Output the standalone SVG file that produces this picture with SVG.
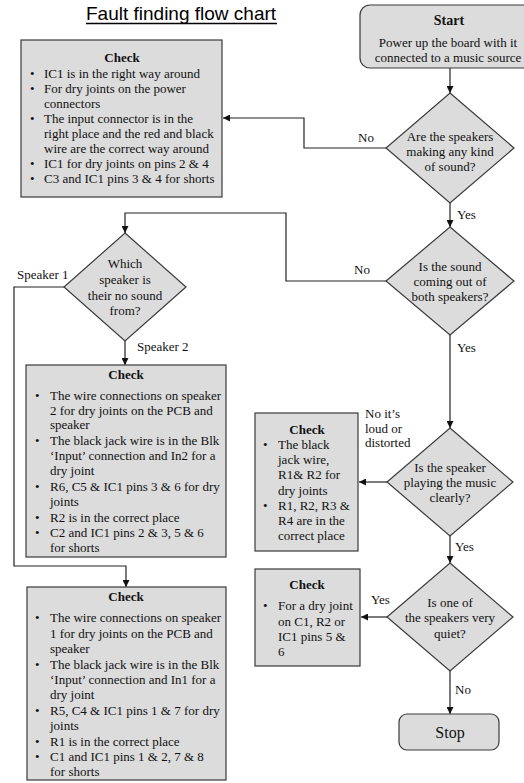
<svg xmlns="http://www.w3.org/2000/svg" width="524" height="783" viewBox="0 0 524 783">
<style>
.box{fill:#dcdcdc;stroke:#3a3a3a;stroke-width:1.2}
.t{font-family:"Liberation Serif","Times New Roman",serif;font-size:13px;fill:#111}
.c{text-anchor:middle}
.b{font-weight:bold}
.ln{fill:none;stroke:#222;stroke-width:1.2}
.title{font-family:"Liberation Sans",Arial,sans-serif;font-size:19px;fill:#000}
</style>
<defs>
<marker id="ah" viewBox="0 0 8 8" refX="8" refY="4" markerWidth="7" markerHeight="7" markerUnits="userSpaceOnUse" orient="auto">
<path d="M0,0 L8,4 L0,8 z" fill="#111"/>
</marker>
</defs>
<rect width="524" height="783" fill="#fff"/>
<g id="title">
<text class="title" x="86" y="20">Fault finding flow chart</text>
<line x1="86" y1="23.5" x2="277" y2="23.5" stroke="#000" stroke-width="1.5"/>
</g>
<g id="connectors">
<path class="ln" d="M450,68 V93" marker-end="url(#ah)"/>
<path class="ln" d="M386,148 H304 V118 H223" marker-end="url(#ah)"/>
<path class="ln" d="M450,203 V227" marker-end="url(#ah)"/>
<path class="ln" d="M386,281 H286 V213 H125 V233" marker-end="url(#ah)"/>
<path class="ln" d="M64,287 H14 V566 H126 V587" marker-end="url(#ah)"/>
<path class="ln" d="M125,341 V365" marker-end="url(#ah)"/>
<path class="ln" d="M450,335 V428" marker-end="url(#ah)"/>
<path class="ln" d="M387,482 H359" marker-end="url(#ah)"/>
<path class="ln" d="M450,536 V563" marker-end="url(#ah)"/>
<path class="ln" d="M387,617 H361" marker-end="url(#ah)"/>
<path class="ln" d="M450,671 V714" marker-end="url(#ah)"/>
<text class="t" x="358" y="142">No</text>
<text class="t" x="457" y="219">Yes</text>
<text class="t" x="354" y="274">No</text>
<text class="t" x="17" y="279">Speaker 1</text>
<text class="t" x="137" y="351">Speaker 2</text>
<text class="t" x="457" y="352">Yes</text>
<text class="t" x="365" y="418">No it’s</text>
<text class="t" x="365" y="433">loud or</text>
<text class="t" x="365" y="447">distorted</text>
<text class="t" x="455" y="551">Yes</text>
<text class="t" x="371" y="604">Yes</text>
<text class="t" x="455" y="694">No</text>
</g>
<g id="start">
<rect class="box" x="360" y="5" width="182" height="63" rx="10"/>
<text class="t c b" x="449" y="25" style="font-size:14px">Start</text>
<text class="t c" x="448" y="47">Power up the board with it</text>
<text class="t c" x="448" y="62">connected to a music source</text>
</g>
<g id="check1">
<rect class="box" x="21" y="40" width="201" height="157"/>
<text class="t c b" x="122" y="62">Check</text>
<g class="t">
<text x="30" y="78">•</text><text x="44" y="78">IC1 is in the right way around</text>
<text x="30" y="93">•</text><text x="44" y="93">For dry joints on the power</text>
<text x="44" y="108">connectors</text>
<text x="30" y="123">•</text><text x="44" y="123">The input connector is in the</text>
<text x="44" y="138">right place and the red and black</text>
<text x="44" y="153">wire are the correct way around</text>
<text x="30" y="168">•</text><text x="44" y="168">IC1 for dry joints on pins 2 &amp; 4</text>
<text x="30" y="183">•</text><text x="44" y="183">C3 and IC1 pins 3 &amp; 4 for shorts</text>
</g>
</g>
<g id="q1">
<polygon class="box" points="450,93 514,148 450,203 386,148"/>
<text class="t c" x="450" y="141">Are the speakers</text>
<text class="t c" x="450" y="156">making any kind</text>
<text class="t c" x="450" y="171">of sound?</text>
</g>
<g id="q2">
<polygon class="box" points="450,227 514,281 450,335 386,281"/>
<text class="t c" x="450" y="271">Is the sound</text>
<text class="t c" x="450" y="286">coming out of</text>
<text class="t c" x="450" y="301">both speakers?</text>
</g>
<g id="q3">
<polygon class="box" points="125,233 186,287 125,341 64,287"/>
<text class="t c" x="125" y="268">Which</text>
<text class="t c" x="125" y="284">speaker is</text>
<text class="t c" x="125" y="300">their no sound</text>
<text class="t c" x="125" y="315">from?</text>
</g>
<g id="check2">
<rect class="box" x="26" y="365" width="200" height="192"/>
<text class="t c b" x="126" y="379">Check</text>
<g class="t">
<text x="35" y="400">•</text><text x="50" y="400">The wire connections on speaker</text>
<text x="50" y="415">2 for dry joints on the PCB and</text>
<text x="50" y="429">speaker</text>
<text x="35" y="445">•</text><text x="50" y="445">The black jack wire is in the Blk</text>
<text x="50" y="460">‘Input’ connection and In2 for a</text>
<text x="50" y="475">dry joint</text>
<text x="35" y="491">•</text><text x="50" y="491">R6, C5 &amp; IC1 pins 3 &amp; 6 for dry</text>
<text x="50" y="506">joints</text>
<text x="35" y="522">•</text><text x="50" y="522">R2 is in the correct place</text>
<text x="35" y="537">•</text><text x="50" y="537">C2 and IC1 pins 2 &amp; 3, 5 &amp; 6</text>
<text x="50" y="552">for shorts</text>
</g>
</g>
<g id="check3">
<rect class="box" x="27" y="587" width="199" height="193"/>
<text class="t c b" x="126" y="601">Check</text>
<g class="t">
<text x="35" y="622">•</text><text x="50" y="622">The wire connections on speaker</text>
<text x="50" y="638">1 for dry joints on the PCB and</text>
<text x="50" y="653">speaker</text>
<text x="35" y="669">•</text><text x="50" y="669">The black jack wire is in the Blk</text>
<text x="50" y="684">‘Input’ connection and In1 for a</text>
<text x="50" y="699">dry joint</text>
<text x="35" y="715">•</text><text x="50" y="715">R5, C4 &amp; IC1 pins 1 &amp; 7 for dry</text>
<text x="50" y="730">joints</text>
<text x="35" y="746">•</text><text x="50" y="746">R1 is in the correct place</text>
<text x="35" y="761">•</text><text x="50" y="761">C1 and IC1 pins 1 &amp; 2, 7 &amp; 8</text>
<text x="50" y="776">for shorts</text>
</g>
</g>
<g id="q4">
<polygon class="box" points="450,428 513,482 450,536 387,482"/>
<text class="t c" x="450" y="472">Is the speaker</text>
<text class="t c" x="450" y="487">playing the music</text>
<text class="t c" x="450" y="502">clearly?</text>
</g>
<g id="check4">
<rect class="box" x="255" y="413" width="103" height="138"/>
<text class="t c b" x="307" y="434">Check</text>
<g class="t">
<text x="263" y="449">•</text><text x="278" y="449">The black</text>
<text x="278" y="464">jack wire,</text>
<text x="278" y="479">R1&amp; R2 for</text>
<text x="278" y="495">dry joints</text>
<text x="263" y="510">•</text><text x="278" y="510">R1, R2, R3 &amp;</text>
<text x="278" y="525">R4 are in the</text>
<text x="278" y="540">correct place</text>
</g>
</g>
<g id="q5">
<polygon class="box" points="450,563 513,617 450,671 387,617"/>
<text class="t c" x="450" y="607">Is one of</text>
<text class="t c" x="450" y="622">the speakers very</text>
<text class="t c" x="450" y="638">quiet?</text>
</g>
<g id="check5">
<rect class="box" x="255" y="569" width="105" height="97"/>
<text class="t c b" x="307" y="589">Check</text>
<g class="t">
<text x="263" y="610">•</text><text x="278" y="610">For a dry joint</text>
<text x="278" y="626">on C1, R2 or</text>
<text x="278" y="641">IC1 pins 5 &amp;</text>
<text x="278" y="656">6</text>
</g>
</g>
<g id="stop">
<rect class="box" x="399" y="714" width="100" height="36" rx="8"/>
<text class="t c" x="450" y="738" style="font-size:16px">Stop</text>
</g>
</svg>
